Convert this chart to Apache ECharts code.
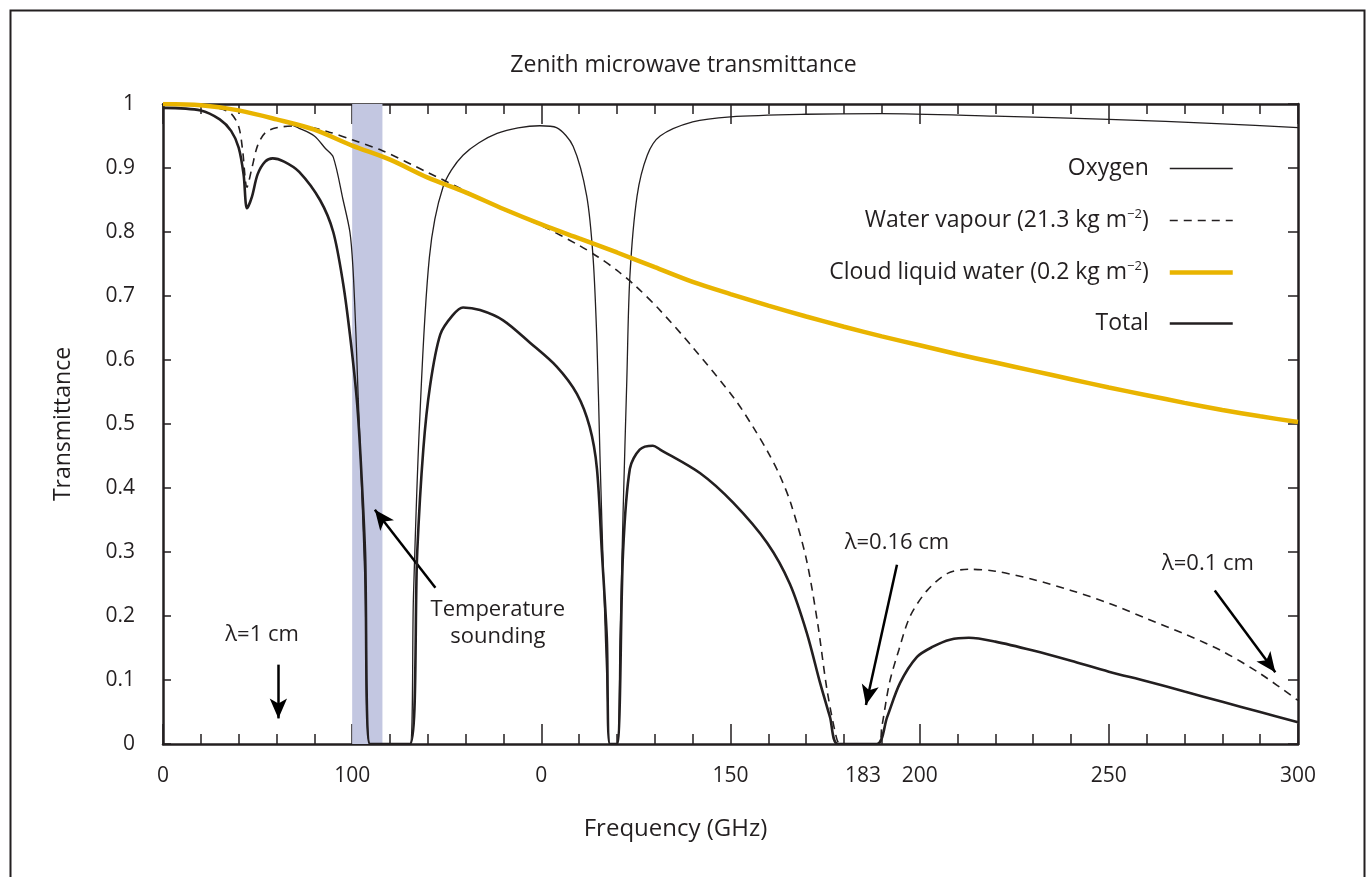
<!DOCTYPE html>
<html>
<head>
<meta charset="utf-8">
<script src="https://cdn.jsdelivr.net/npm/echarts@6/dist/echarts.min.js"></script>
<style>
  html, body { margin: 0; padding: 0; background: #fff; }
  #chart { width: 1367px; height: 877px; }
</style>
</head>
<body>
<div id="chart"></div>
<script>
// values (frequency in GHz, transmittance 0..1)
var oxygenFreq = [0, 10, 20, 30, 36, 40, 43, 45, 47.6, 49.4, 50.2, 51, 51.6, 52.2, 53.4, 54.7,
  65.3, 66.2, 67.8, 70.4, 74, 79.3, 88.3, 99.6, 104, 108.4, 112, 113.7, 114.7, 115.5, 116.5, 117.5, 118.2,
  120, 120.8, 121.6, 122.6, 123.4, 125.3, 128, 131.4, 140, 150, 170, 190, 220, 250, 280, 300];
var oxygenT = [1.0, 0.998, 0.99, 0.977, 0.962, 0.95, 0.93, 0.917, 0.85, 0.8, 0.745, 0.64, 0.54, 0.45, 0.25, 0,
  0, 0.23, 0.5, 0.76, 0.87, 0.92, 0.954, 0.966, 0.963, 0.934, 0.856, 0.758, 0.627, 0.45, 0.25, 0.07, 0,
  0, 0.167, 0.36, 0.57, 0.73, 0.856, 0.92, 0.95, 0.972, 0.98, 0.984, 0.985, 0.981, 0.976, 0.969, 0.963];

var vapourFreq = [0, 10, 15, 18, 20, 21, 22.2, 23.5, 25, 27, 30, 36, 44, 50, 58, 70, 80, 90, 100, 110,
  115, 120, 125, 131, 140, 151, 156, 160, 163, 166, 170, 173, 175.5, 178, 179,
  189, 190, 192, 194.5, 197.5, 202, 207.5, 213, 220, 230, 240, 250, 260, 270, 280, 290, 300];
var vapourT = [1.0, 0.998, 0.993, 0.985, 0.965, 0.93, 0.87, 0.9, 0.935, 0.955, 0.963, 0.966, 0.956, 0.944, 0.927, 0.893, 0.864, 0.835, 0.81, 0.779,
  0.761, 0.74, 0.715, 0.68, 0.62, 0.54, 0.495, 0.455, 0.42, 0.375, 0.29, 0.19, 0.085, 0.01, 0,
  0, 0.027, 0.095, 0.147, 0.2, 0.24, 0.267, 0.273, 0.27, 0.257, 0.24, 0.22, 0.196, 0.172, 0.145, 0.11, 0.068];

var cloudFreq = [0, 10, 20, 30, 40, 50, 60, 70, 80, 90, 100, 110, 120, 130, 140, 150, 160, 170, 180, 190,
  200, 210, 220, 230, 240, 250, 260, 270, 280, 290, 300];
var cloudT = [1.0, 0.998, 0.99, 0.976, 0.96, 0.935, 0.913, 0.885, 0.862, 0.836, 0.812, 0.79, 0.768, 0.745, 0.722, 0.703, 0.685, 0.668, 0.652, 0.637,
  0.623, 0.609, 0.596, 0.583, 0.57, 0.557, 0.545, 0.533, 0.522, 0.512, 0.503];

var totalFreq = [0, 10, 15, 18, 20, 21.3, 22.2, 23.5, 25, 27, 29, 32, 36, 41.5, 45, 47.6, 49.4, 51.2, 52.2, 53.4, 54.7,
  65.3, 67.2, 68.8, 70.6, 73.3, 76.6, 79.3, 83.8, 89.9, 97, 104, 109.4, 112.8, 114.7, 116, 117.3, 118.1,
  120, 121.6, 123.4, 126, 129.5, 131.4, 142, 150.7, 159.7, 165.7, 170.2, 173.7, 176.3, 178.4,
  188.7, 191.4, 194.8, 199.3, 203.5, 208, 213, 220, 230, 240, 250, 260, 270, 280, 290, 300];
var totalT = [0.994, 0.99, 0.976, 0.958, 0.932, 0.89, 0.837, 0.855, 0.89, 0.91, 0.915, 0.91, 0.894, 0.85, 0.8, 0.72, 0.64, 0.54, 0.45, 0.3, 0,
  0, 0.3, 0.46, 0.56, 0.64, 0.67, 0.682, 0.678, 0.662, 0.627, 0.59, 0.547, 0.495, 0.43, 0.3, 0.167, 0,
  0, 0.3, 0.43, 0.46, 0.466, 0.46, 0.423, 0.377, 0.314, 0.25, 0.173, 0.095, 0.042, 0,
  0, 0.042, 0.095, 0.136, 0.152, 0.163, 0.166, 0.16, 0.146, 0.13, 0.113, 0.098, 0.082, 0.066, 0.05, 0.034];

// x tick labels as printed on the figure
var xTickValues = [0, 50, 100, 150, 185, 200, 250, 300];
var xTickLabels = ['0', '100', '0', '150', '183', '200', '250', '300'];

var soundingBand = [50, 58];

var ink = '#231f20';
var gold = '#e9b400';
var font = 'Open Sans';

function pairs(xs, ys) {
  return xs.map(function (x, i) { return [x, ys[i]]; });
}

var chart = echarts.init(document.getElementById('chart'));

var lineStyles = {
  'Oxygen': { color: ink, width: 1.3 },
  'Water vapour': { color: ink, width: 1.6, type: [8, 6] },
  'Cloud liquid water': { color: gold, width: 4.5 },
  'Total': { color: ink, width: 2.6 }
};
var legendNames = ['Oxygen', 'Water vapour', 'Cloud liquid water', 'Total'];
var legendText = {
  'Oxygen': '{t|Oxygen}',
  'Water vapour': '{t|Water vapour (21.3 kg m}{s|−2}{t|)}',
  'Cloud liquid water': '{t|Cloud liquid water (0.2 kg m}{s|−2}{t|)}',
  'Total': '{t|Total}'
};

function arrow(from, to) {
  return [{ coord: from }, { coord: to }];
}
function note(text, at) {
  return { coord: at, value: text };
}

var curve = { showSymbol: false, symbol: 'none', smooth: 0.3 };

chart.setOption({
  backgroundColor: '#fff',
  textStyle: { fontFamily: font, color: ink },
  title: {
    text: 'Zenith microwave transmittance',
    left: 'center',
    top: 49,
    textStyle: { fontFamily: font, fontSize: 23, fontWeight: 'normal', color: ink }
  },
  graphic: [{
    type: 'rect',
    left: 8, top: 8,
    shape: { width: 1354, height: 890 },
    style: { fill: 'none', stroke: ink, lineWidth: 2 },
    silent: true
  }],
  legend: {
    data: legendNames.map(function (n) { return { name: n, lineStyle: lineStyles[n] }; }),
    orient: 'vertical',
    align: 'right',
    right: 132,
    top: 157,
    padding: 0,
    itemWidth: 63,
    itemHeight: 14,
    itemGap: 28,
    itemStyle: { opacity: 0 },
    formatter: function (name) { return legendText[name]; },
    textStyle: {
      padding: [0, 16, 0, 0],
      rich: {
        t: { fontFamily: font, fontSize: 23, color: ink, lineHeight: 28 },
        s: { fontFamily: font, fontSize: 13, color: ink, padding: [0, 0, 12, 0] }
      }
    }
  },
  grid: { left: 163, right: 69, top: 104, bottom: 133 },
  xAxis: [{
    type: 'value',
    min: 0, max: 300, interval: 50,
    name: 'Frequency (GHz)',
    nameLocation: 'middle',
    nameGap: 73,
    nameTextStyle: { fontFamily: font, fontSize: 24, color: ink, padding: [0, 110, 0, 0] },
    axisLine: { show: true, onZero: false, lineStyle: { color: ink, width: 2.5 } },
    axisTick: { show: true, inside: true, length: 20, lineStyle: { color: ink, width: 1.5 } },
    minorTick: { show: true, splitNumber: 5, length: 10, lineStyle: { color: ink, width: 1.5 } },
    splitLine: { show: false },
    axisLabel: {
      customValues: xTickValues,
      formatter: function (v) { return xTickLabels[xTickValues.indexOf(v)]; },
      fontFamily: font, fontSize: 21, color: ink, margin: 22
    }
  }, {
    type: 'value',
    position: 'top',
    min: 0, max: 300, interval: 50,
    axisLine: { show: true, onZero: false, lineStyle: { color: ink, width: 2.5 } },
    axisTick: { show: true, inside: true, length: 20, lineStyle: { color: ink, width: 1.5 } },
    minorTick: { show: true, splitNumber: 5, length: 10, lineStyle: { color: ink, width: 1.5 } },
    splitLine: { show: false },
    axisLabel: { show: false }
  }],
  yAxis: [{
    type: 'value',
    min: 0, max: 1, interval: 0.1,
    name: 'Transmittance',
    nameLocation: 'middle',
    nameGap: 88,
    nameTextStyle: { fontFamily: font, fontSize: 23, color: ink },
    axisLine: { show: true, onZero: false, lineStyle: { color: ink, width: 2.5 } },
    axisTick: { show: true, inside: true, length: 8, lineStyle: { color: ink, width: 1.5 } },
    splitLine: { show: false },
    axisLabel: { fontFamily: font, fontSize: 21, color: ink, margin: 28 }
  }, {
    type: 'value',
    position: 'right',
    min: 0, max: 1, interval: 0.1,
    axisLine: { show: true, onZero: false, lineStyle: { color: ink, width: 2.5 } },
    axisTick: { show: true, inside: true, length: 10, lineStyle: { color: ink, width: 1.5 } },
    splitLine: { show: false },
    axisLabel: { show: false }
  }],
  series: [{
    name: 'band',
    type: 'line',
    data: [],
    z: 1,
    markArea: {
      silent: true,
      itemStyle: { color: '#c3c7e1' },
      data: [[{ xAxis: soundingBand[0], yAxis: 0 }, { xAxis: soundingBand[1], yAxis: 1 }]]
    }
  }, Object.assign({
    name: 'Oxygen',
    type: 'line',
    data: pairs(oxygenFreq, oxygenT),
    color: ink,
    lineStyle: lineStyles['Oxygen'],
    z: 3
  }, curve), Object.assign({
    name: 'Water vapour',
    type: 'line',
    data: pairs(vapourFreq, vapourT),
    color: ink,
    lineStyle: lineStyles['Water vapour'],
    z: 3
  }, curve), Object.assign({
    name: 'Cloud liquid water',
    type: 'line',
    data: pairs(cloudFreq, cloudT),
    color: gold,
    lineStyle: lineStyles['Cloud liquid water'],
    z: 4
  }, curve), Object.assign({
    name: 'Total',
    type: 'line',
    data: pairs(totalFreq, totalT),
    color: ink,
    lineStyle: lineStyles['Total'],
    z: 5
  }, curve), {
    name: 'notes',
    type: 'line',
    data: [],
    z: 6,
    markLine: {
      silent: true,
      symbol: ['none', 'arrow'],
      symbolSize: [13, 20],
      label: { show: false },
      lineStyle: { color: '#000', width: 2.5, type: 'solid' },
      data: [
        arrow([30.5, 0.124], [30.5, 0.04]),
        arrow([72, 0.244], [56, 0.366]),
        arrow([194, 0.28], [185.8, 0.061]),
        arrow([278, 0.24], [294, 0.112])
      ]
    },
    markPoint: {
      silent: true,
      symbol: 'circle',
      symbolSize: 0,
      label: {
        show: true,
        position: 'inside',
        formatter: function (p) { return p.value; },
        fontFamily: font, fontSize: 22, color: ink, lineHeight: 27
      },
      data: [
        note('λ=1 cm', [26.2, 0.17]),
        note('Temperature\nsounding', [88.5, 0.189]),
        note('λ=0.16 cm', [194, 0.314]),
        note('λ=0.1 cm', [276.2, 0.281])
      ]
    }
  }]
});
</script>
</body>
</html>
